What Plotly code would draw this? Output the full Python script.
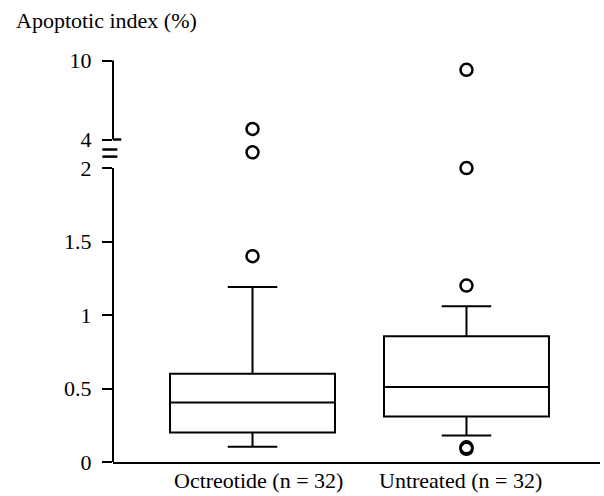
import plotly.graph_objects as go

# ---- data ----
categories = ["Octreotide (n = 32)", "Untreated (n = 32)"]
q1 = [0.20, 0.31]
median = [0.405, 0.51]
q3 = [0.60, 0.855]
lower_whisker = [0.103, 0.18]
upper_whisker = [1.19, 1.06]
outliers_octreotide = [1.4, 3.1, 4.8]
outliers_untreated = [0.09, 0.1, 1.2, 2.0, 9.3]
y_tick_values = [0, 0.5, 1, 1.5, 2, 4, 10]
y_tick_labels = ["0", "0.5", "1", "1.5", "2", "4", "10"]


# broken axis: linear 0-2, compressed 2-4 (break) and 4-10
def to_axis(v):
    if v <= 2:
        return v
    if v <= 4:
        return 2 + (v - 2) * 0.097
    return 2.194 + (v - 4) * 0.0895


FONT = "Liberation Serif, Times New Roman, serif"
positions = list(range(len(categories)))
label_shifts = [6, -6]

fig = go.Figure()
for i, pos in enumerate(positions):
    fig.add_trace(go.Box(
        x=[pos],
        q1=[to_axis(q1[i])], median=[to_axis(median[i])], q3=[to_axis(q3[i])],
        lowerfence=[to_axis(lower_whisker[i])], upperfence=[to_axis(upper_whisker[i])],
        boxpoints=False, width=0.771, whiskerwidth=0.3,
        fillcolor="white", line=dict(color="black", width=2),
        showlegend=False, hoverinfo="skip",
    ))

for pos, outs in zip(positions, [outliers_octreotide, outliers_untreated]):
    fig.add_trace(go.Scatter(
        x=[pos] * len(outs), y=[to_axis(v) for v in outs], mode="markers",
        marker=dict(symbol="circle-open", size=12, color="black",
                    line=dict(width=2.5, color="black")),
        showlegend=False, hoverinfo="skip",
    ))

# y axis line in two pieces with break marks
shapes = [
    dict(type="line", xref="paper", yref="y", x0=0, x1=0,
         y0=0, y1=to_axis(2), line=dict(color="black", width=2)),
    dict(type="line", xref="paper", yref="y", x0=0, x1=0,
         y0=to_axis(4), y1=to_axis(10), line=dict(color="black", width=2)),
    # inner part of the tick at 4
    dict(type="line", xref="paper", yref="y", x0=0, x1=0.017,
         y0=to_axis(4), y1=to_axis(4), line=dict(color="black", width=2.5)),
]
t2, t4 = to_axis(2), to_axis(4)
for frac in [0.40, 0.65]:
    yb = t2 + (t4 - t2) * frac
    shapes.append(dict(type="line", xref="paper", yref="y", x0=-0.022, x1=0.009,
                       y0=yb, y1=yb, line=dict(color="black", width=2.5)))

annotations = [dict(text="Apoptotic index (%)", xref="paper", yref="paper",
                    x=-0.203, y=1 + (50 - 20) / 412, xanchor="left", yanchor="middle",
                    showarrow=False, font=dict(family=FONT, size=22, color="black"))]
for pos, name, sh in zip(positions, categories, label_shifts):
    annotations.append(dict(text=name, xref="x", yref="paper", x=pos, y=0,
                            xshift=sh, yshift=-4, xanchor="center", yanchor="top",
                            showarrow=False,
                            font=dict(family=FONT, size=22, color="black")))

fig.update_layout(
    width=604, height=496,
    margin=dict(l=113, r=4, t=50, b=34),
    paper_bgcolor="white", plot_bgcolor="white",
    font=dict(family=FONT, size=22, color="black"),
    shapes=shapes,
    xaxis=dict(range=[-0.652, 1.624], tickvals=positions, showticklabels=False,
               ticks="", showline=True, linecolor="black", linewidth=2,
               showgrid=False, zeroline=False, automargin=False),
    yaxis=dict(range=[0, 2.803], tickvals=[to_axis(v) for v in y_tick_values],
               ticktext=y_tick_labels, ticks="outside", ticklen=10, tickwidth=2,
               tickcolor="black", showline=False, showgrid=False, zeroline=False,
               ticklabelstandoff=6, automargin=False,
               tickfont=dict(family=FONT, size=22, color="black")),
    annotations=annotations,
)

fig.write_html("out.html", config={"displayModeBar": False},
               post_script="document.body.style.margin='0';document.body.style.padding='0';")
